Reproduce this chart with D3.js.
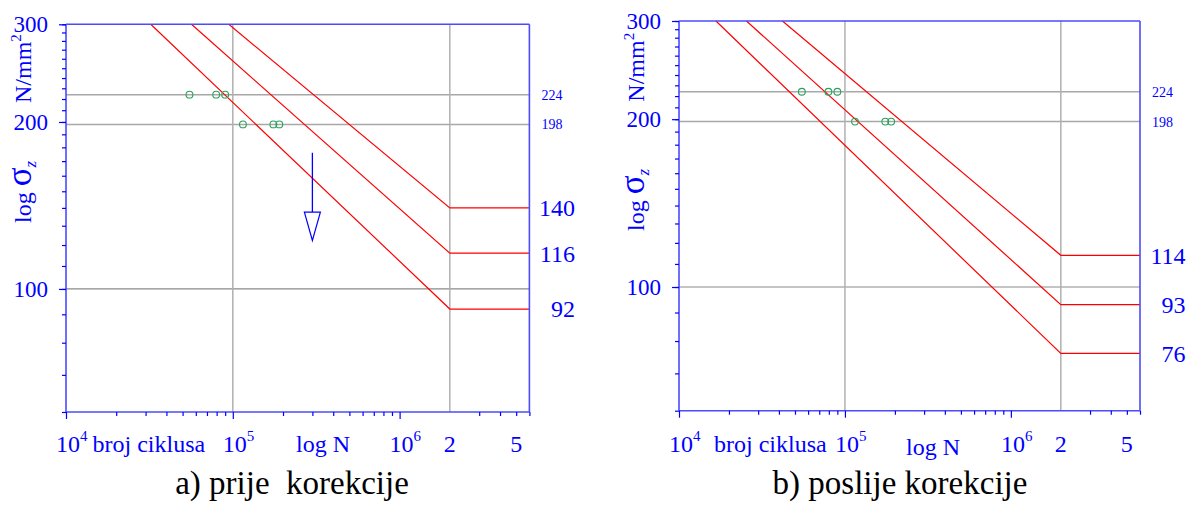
<!DOCTYPE html>
<html><head><meta charset="utf-8">
<script src="https://cdn.jsdelivr.net/npm/d3@7"></script>
<style>
body{margin:0;background:#fff}
svg{display:block}
text{font-family:"Liberation Serif","Times New Roman",serif}
</style>
</head><body>
<svg id="c" width="1196" height="505"></svg>
<script>
// ---------- data ----------
const nDomain = [1e4, 6e6];
const sDomain = [60, 300];
const yMinorTicks = [60,70,80,90,100,110,120,130,140,150,160,170,180,190,200,210,220,230,240,250,260,270,280,290,300];
const yMajorTicks = [100, 200, 300];
const xMinorTicks = [2e4,3e4,4e4,5e4,6e4,7e4,8e4,9e4,2e5,3e5,4e5,5e5,6e5,7e5,8e5,9e5,3e6,4e6,5e6,6e6];
const xMajorTicks = [1e4, 1e5, 1e6];
const xPowLabels = [["10","4",1e4],["10","5",1e5],["10","6",1e6]];
const xPlainLabels = [["2",2e6],["5",5e6]];
const gridStress = [224, 198];
const gridStressDark = [100];
const gridN = [1e5, 2e6];
const kneeN = 2e6;
const endN = 6e6;
// test points (N at 224 and at 198 N/mm2)
const pointsN224 = [5.5e4, 7.95e4, 9.0e4];
const pointsN198 = [1.15e5, 1.75e5, 1.9e5];
// panel a) prije korekcije
const curvesA_topN = [3.22e4, 5.65e4, 9.46e4];
const curvesA_knee = [92, 116, 140];
// panel b) poslije korekcije
const curvesB_topN = [1.67e4, 2.55e4, 4.2e4];
const curvesB_knee = [76, 93, 114];
// arrow in panel a
const arrowN = 3e5;
const arrowStress = [176, 137.6, 122.3];
const captions = ["a) prije\u00a0 korekcije", "b) poslije korekcije"];

// ---------- drawing ----------
const svg = d3.select("#c");
const BLUE = "#0000ff", AX = "#4b4bff";

function panel(box, topN, knee, withArrow, caption, capX, brojX, logNX, logNY) {
  const g = svg.append("g");
  const x = d3.scaleLog().domain(nDomain).range([box.x0, box.x1]);
  const y = d3.scaleLog().domain(sDomain).range([box.y1, box.y0]);

  // grid
  g.selectAll(".gs").data(gridStress).join("line")
    .attr("x1", box.x0).attr("x2", box.x1).attr("y1", d => y(d)).attr("y2", d => y(d))
    .attr("stroke", "#a8a8a8").attr("stroke-width", 1.5);
  g.selectAll(".gd").data(gridStressDark).join("line")
    .attr("x1", box.x0).attr("x2", box.x1).attr("y1", d => y(d)).attr("y2", d => y(d))
    .attr("stroke", "#8a8a8a").attr("stroke-width", 1.2);
  g.selectAll(".gn").data(gridN).join("line")
    .attr("x1", d => x(d)).attr("x2", d => x(d)).attr("y1", box.y0).attr("y2", box.y1)
    .attr("stroke", "#b0b0b0").attr("stroke-width", 1.5);

  // curves
  const curves = topN.map((n, i) => [[n, sDomain[1]], [kneeN, knee[i]], [endN, knee[i]]]);
  const line = d3.line().x(d => x(d[0])).y(d => y(d[1]));
  g.selectAll(".cv").data(curves).join("path")
    .attr("d", line).attr("fill", "none").attr("stroke", "#ff0000").attr("stroke-width", 1.2);

  // points
  const pts = pointsN224.map(n => [n, 224]).concat(pointsN198.map(n => [n, 198]));
  g.selectAll(".pt").data(pts).join("circle")
    .attr("cx", d => x(d[0])).attr("cy", d => y(d[1])).attr("r", 3.4)
    .attr("fill", "none").attr("stroke", "#2aa05c").attr("stroke-width", 1.1);

  // arrow
  if (withArrow) {
    const ax = x(arrowN);
    g.append("line").attr("x1", ax).attr("x2", ax)
      .attr("y1", y(arrowStress[0])).attr("y2", y(arrowStress[1]))
      .attr("stroke", BLUE).attr("stroke-width", 1.3);
    g.append("path")
      .attr("d", `M${ax-8},${y(arrowStress[1])}L${ax+8},${y(arrowStress[1])}L${ax},${y(arrowStress[2])}Z`)
      .attr("fill", "#fff").attr("stroke", BLUE).attr("stroke-width", 1.2);
  }

  // frame
  const fr = [[box.x0, box.y0, box.x1, box.y0], [box.x1, box.y0, box.x1, box.y1],
              [box.x0, box.y0, box.x0, box.y1], [box.x0, box.y1, box.x1, box.y1]];
  g.selectAll(".fr").data(fr).join("line")
    .attr("x1", d => d[0]).attr("y1", d => d[1]).attr("x2", d => d[2]).attr("y2", d => d[3])
    .attr("stroke", AX).attr("stroke-width", 1.6);

  // y axis ticks
  const yMinor = g.append("g").attr("transform", `translate(${box.x0},0)`)
    .call(d3.axisLeft(y).tickValues(yMinorTicks).tickSize(4).tickFormat(""));
  const yMajor = g.append("g").attr("transform", `translate(${box.x0},0)`)
    .call(d3.axisLeft(y).tickValues(yMajorTicks).tickSize(7).tickPadding(11).tickFormat(d3.format("d")));
  [yMinor, yMajor].forEach(a => {
    a.select(".domain").remove();
    a.selectAll("line").attr("stroke", BLUE).attr("stroke-width", 1.2);
    a.selectAll("text").attr("fill", BLUE).attr("font-size", 23)
      .attr("font-family", "Liberation Serif");
  });

  // x axis ticks
  const xMinor = g.append("g").attr("transform", `translate(0,${box.y1})`)
    .call(d3.axisBottom(x).tickValues(xMinorTicks).tickSize(4).tickFormat(""));
  const xMajor = g.append("g").attr("transform", `translate(0,${box.y1})`)
    .call(d3.axisBottom(x).tickValues(xMajorTicks).tickSize(7).tickFormat(""));
  [xMinor, xMajor].forEach(a => {
    a.select(".domain").remove();
    a.selectAll("line").attr("stroke", BLUE).attr("stroke-width", 1.2);
  });

  // x labels
  const lblY = 452;
  xPowLabels.forEach(([b, s, n]) => {
    const t = g.append("text").attr("x", x(n) - 10).attr("y", lblY)
      .attr("fill", BLUE).attr("font-size", 24);
    t.append("tspan").text(b);
    t.append("tspan").attr("font-size", 15).attr("dy", -11).text(s);
  });
  xPlainLabels.forEach(([b, n]) => {
    g.append("text").attr("x", x(n)).attr("y", lblY).attr("text-anchor", "middle")
      .attr("fill", BLUE).attr("font-size", 24).text(b);
  });
  g.append("text").attr("x", box.x0 + brojX).attr("y", lblY)
    .attr("fill", BLUE).attr("font-size", 24).text("broj ciklusa");
  g.append("text").attr("x", box.x0 + logNX).attr("y", logNY).attr("text-anchor", "middle")
    .attr("fill", BLUE).attr("font-size", 24).text("log N");

  // right labels
  gridStress.forEach(s => {
    g.append("text").attr("x", box.x1 + 12).attr("y", y(s)).attr("dy", "0.35em")
      .attr("fill", BLUE).attr("font-size", 14).text(s);
  });
  knee.forEach(s => {
    g.append("text").attr("x", box.x1 + 45.5).attr("y", y(s)).attr("dy", "0.35em")
      .attr("text-anchor", "end").attr("fill", BLUE).attr("font-size", 24).text(s);
  });

  // y title
  const tx = box.x0 - 35;
  const t1 = g.append("text").attr("transform", `translate(${tx},${box.titleY}) rotate(-90)`)
    .attr("fill", BLUE).attr("font-size", 24);
  t1.append("tspan").text("log ");
  t1.append("tspan").attr("font-size", 35).text("\u03c3");
  t1.append("tspan").attr("font-size", 17).attr("font-style", "italic").attr("dy", 5).text("z");
  const t2 = g.append("text").attr("transform", `translate(${tx},${box.unitY}) rotate(-90)`)
    .attr("fill", BLUE).attr("font-size", 24);
  t2.append("tspan").text("N/mm");
  t2.append("tspan").attr("font-size", 15).attr("dy", -10).text("2");

  // caption
  svg.append("text").attr("x", capX).attr("y", 494).attr("text-anchor", "middle")
    .attr("fill", "#000").attr("font-size", 33).text(caption);
}

panel({x0: 66, x1: 529.4, y0: 24.3, y1: 412, titleY: 223, unitY: 103},
      curvesA_topN, curvesA_knee, true, captions[0], 292, 26.5, 257, 452);
panel({x0: 679, x1: 1140, y0: 21, y1: 410.7, titleY: 231, unitY: 101.7},
      curvesB_topN, curvesB_knee, false, captions[1], 900, 35, 254, 455);
</script>
</body></html>
